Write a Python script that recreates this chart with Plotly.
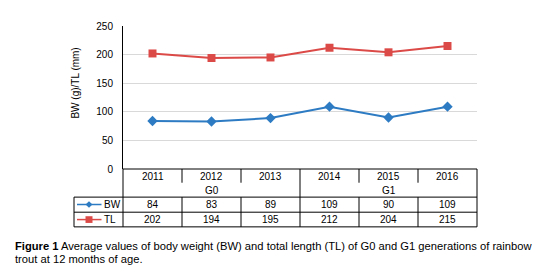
import plotly.graph_objects as go

years = ["2011", "2012", "2013", "2014", "2015", "2016"]
generations = ["G0", "G1"]
bw = [84, 83, 89, 109, 90, 109]
tl = [202, 194, 195, 212, 204, 215]
y_ticks = [0, 50, 100, 150, 200, 250]

BLUE = "#2D7BC3"
RED = "#DC4A48"
FONT = "Liberation Sans, Arial, sans-serif"

# the page body has an 8px margin, so the figure is drawn 8px smaller
OFF = 8
W, H = 540 - OFF, 279 - OFF
PL, PT, PR, PB = 123, 20, 477, 169      # plot area in window pixels
L, T = PL - OFF, PT - OFF
PW, PH = PR - PL, PB - PT
R, B = W - L - PW, H - T - PH


def px(x):
    return (x - PL) / PW


def py(y):
    return (PB - y) / PH


fig = go.Figure()
fig.add_trace(go.Scatter(x=years, y=tl, mode="lines+markers", name="TL",
                         line=dict(color=RED, width=2),
                         marker=dict(symbol="square", size=8, color=RED)))
fig.add_trace(go.Scatter(x=years, y=bw, mode="lines+markers", name="BW",
                         line=dict(color=BLUE, width=2),
                         marker=dict(symbol="diamond", size=8, color=BLUE)))

shapes = []
ann = []
n = len(years)
lc = dict(color="black", width=1)

y_top = py(169)
y_yr = py(183.3)
y_gen = py(198.3)
y_bw = py(214)
y_tl = py(229.3)
x_leg = px(74)

shapes.append(dict(type="line", xref="paper", yref="paper", x0=0, x1=1, y0=y_top, y1=y_top, line=lc))
for yy in (y_gen, y_bw, y_tl):
    shapes.append(dict(type="line", xref="paper", yref="paper", x0=x_leg, x1=1, y0=yy, y1=yy, line=lc))
shapes.append(dict(type="line", xref="paper", yref="paper", x0=x_leg, x1=x_leg, y0=y_gen, y1=y_tl, line=lc))
for i in range(n + 1):
    xx = i / n
    if i in (0, n, n // 2):
        shapes.append(dict(type="line", xref="paper", yref="paper", x0=xx, x1=xx, y0=y_top, y1=y_tl, line=lc))
    else:
        shapes.append(dict(type="line", xref="paper", yref="paper", x0=xx, x1=xx, y0=y_top, y1=y_yr, line=lc))
        shapes.append(dict(type="line", xref="paper", yref="paper", x0=xx, x1=xx, y0=y_gen, y1=y_tl, line=lc))

tf = dict(family=FONT, size=10, color="black")


def cell(x, y, text, xanchor="center", **kw):
    d = dict(x=x, xref="paper", y=y, yref="paper", text=text, showarrow=False,
             xanchor=xanchor, yanchor="middle", font=tf)
    d.update(kw)
    return d


for i, yr in enumerate(years):
    cx = (i + 0.5) / n
    ann.append(cell(cx, py(176.5), yr))
    ann.append(cell(cx, py(206), str(bw[i])))
    ann.append(cell(cx, py(221.7), str(tl[i])))
for gi, g in enumerate(generations):
    cx = (gi + 0.5) / len(generations)
    ann.append(cell(cx, py(191.7), g))

for name, col, yc, sym in (("BW", BLUE, 206, "diamond"), ("TL", RED, 221.7, "square")):
    shapes.append(dict(type="line", xref="paper", yref="paper", x0=px(77), x1=px(101.5),
                       y0=py(yc), y1=py(yc), line=dict(color=col, width=1.5)))
    if sym == "square":
        shapes.append(dict(type="rect", xref="paper", yref="paper", x0=px(85.5), x1=px(92.5),
                           y0=py(yc + 3.5), y1=py(yc - 3.5), fillcolor=col, line=dict(width=0)))
    else:
        cx, cy = 89, yc
        path = "M {} {} L {} {} L {} {} L {} {} Z".format(
            px(cx), py(cy - 3.5), px(cx + 3.5), py(cy), px(cx), py(cy + 3.5), px(cx - 3.5), py(cy))
        shapes.append(dict(type="path", xref="paper", yref="paper", path=path, fillcolor=col,
                           line=dict(width=0)))
    ann.append(cell(px(102), py(yc), name, xanchor="left"))

ann.append(cell(px(76), py(80), "BW (g)/TL (mm)", textangle=-90))

cf = dict(family=FONT, size=11.2, color="black")
ann.append(cell(px(12.5), py(249.3), "<b>Figure 1</b> Average values of body weight (BW) and total length (TL) of G0 and G1 generations of rainbow",
                xanchor="left", font=cf))
ann.append(cell(px(12.5), py(262.7), "trout at 12 months of age.", xanchor="left", font=cf))

fig.update_layout(
    width=W, height=H,
    margin=dict(l=L, r=R, t=T, b=B),
    paper_bgcolor="white", plot_bgcolor="white",
    showlegend=False,
    shapes=shapes, annotations=ann,
    font=dict(family=FONT, size=10, color="black"),
    xaxis=dict(type="category", range=[-0.5, n - 0.5], showticklabels=False, showgrid=False,
               zeroline=False, showline=False, fixedrange=True),
    yaxis=dict(range=[0, 250], tickvals=y_ticks, showgrid=True, gridcolor="#D9D9D9", gridwidth=1,
               zeroline=False, showline=True, linecolor="black", linewidth=1,
               ticks="", ticklabelstandoff=7, tickfont=tf, fixedrange=True),
)

fig.write_html("out.html")
